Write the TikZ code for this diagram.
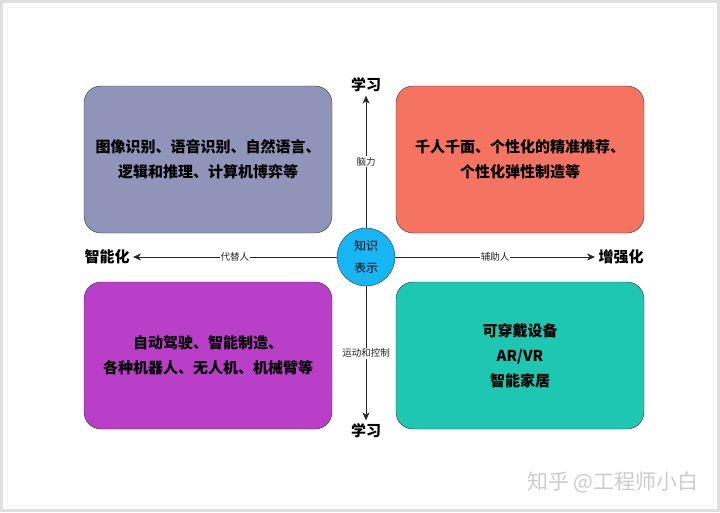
\documentclass[tikz,border=0pt]{standalone}
\usepackage{fontspec}
\newfontfamily\cjk{Noto Sans CJK SC}
\usetikzlibrary{shapes.geometric,arrows.meta}
\usepackage{xcolor}
\definecolor{mindgray}{HTML}{9194B9}
\definecolor{helpred}{HTML}{F47461}
\definecolor{movepurple}{HTML}{BA3FC8}
\definecolor{wearteal}{HTML}{1EC7B1}
\definecolor{knowblue}{HTML}{16B6F4}
\newcommand{\fieldbox}[5] {
    \node[draw=black!80,rounded corners=17pt,minimum width=248pt,minimum height=147pt,
          fill=#4,align=center,font=\cjk\bfseries\fontsize{15}{25}\selectfont] (#1) at (#2, #3) {#5};
}

\begin{document}
\begin{tikzpicture}[x=1pt,y=-1pt]
        \useasboundingbox (0,0) rectangle (720,512);
        \draw[gray!25,line width=3pt] (1.5,1.5) rectangle (718.5,510.5);
        \draw[gray!10] (7,7) rectangle (713,505);

        \fieldbox{mind}{208}{159.5}{mindgray}{图像识别、语音识别、自然语言、\\逻辑和推理、计算机博弈等}
        \fieldbox{help}{520}{159.5}{helpred}{千人千面、个性化的精准推荐、\\个性化弹性制造等}
        \fieldbox{move}{208}{355.5}{movepurple}{自动驾驶、智能制造、\\各种机器人、无人机、机械臂等}
        \fieldbox{wear}{520}{355.5}{wearteal}{可穿戴设备\\AR/VR\\智能家居}

        \node[draw=black!80,circle,minimum size=58pt,inner sep=0pt,fill=knowblue,align=center,
              font=\cjk\fontsize{12}{22}\selectfont] (know) at (366, 257) {知识\\表示};

        \node[font=\cjk\bfseries\fontsize{15}{18}\selectfont] (learnup)   at (366, 85)  {学习};
        \node[font=\cjk\bfseries\fontsize{15}{18}\selectfont] (learndown) at (366, 431) {学习};
        \node[font=\cjk\bfseries\fontsize{15}{18}\selectfont] (smart)     at (107, 257) {智能化};
        \node[font=\cjk\bfseries\fontsize{15}{18}\selectfont] (boost)     at (621, 257) {增强化};

        \begin{scope}[every path/.style={
                black!85,
                -{Stealth[length=8pt,width=7pt]}
            },
            every node/.style={fill=white,inner sep=1pt,font=\cjk\fontsize{9.5}{11}\selectfont}]
            \draw (know) -- node {脑力}       (learnup);
            \draw (know) -- node {运动和控制} (learndown);
            \draw (know) -- node {代替人}     (smart);
            \draw (know) -- node {辅助人}     (boost);
        \end{scope}

        \node[text=gray!40,font=\cjk\fontsize{21}{24}\selectfont] (mark) at (613, 482) {知乎 @工程师小白};
    \end{tikzpicture}
\end{document}
